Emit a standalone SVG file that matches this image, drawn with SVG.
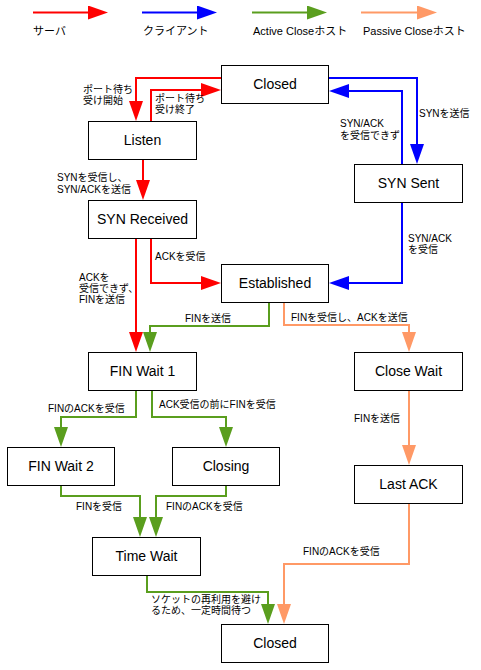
<svg xmlns="http://www.w3.org/2000/svg" width="481" height="670" viewBox="0 0 481 670">
<style>
.n rect{fill:#fff;stroke:#000;stroke-width:1}
.n text{font-family:"Liberation Sans","Noto Sans CJK JP",sans-serif;font-size:14px;text-anchor:middle;fill:#000}
.l{font-family:"Liberation Sans","Noto Sans CJK JP",sans-serif;font-size:10px;fill:#000}
.lg{font-family:"Liberation Sans","Noto Sans CJK JP",sans-serif;font-size:11px;fill:#000}
.c path{fill:none;stroke-width:2}
.r{stroke:#ff0000;marker-end:url(#mr)}
.b{stroke:#0000ff;marker-end:url(#mb)}
.g{stroke:#5a9e1e;marker-end:url(#mg)}
.o{stroke:#ff9966;marker-end:url(#mo)}
</style>
<defs>
<marker id="mr" viewBox="0 0 20 14" refX="0" refY="7" markerWidth="20" markerHeight="14" markerUnits="userSpaceOnUse" orient="auto"><path d="M0,0 L20,7 L0,14 z" fill="#ff0000"/></marker>
<marker id="mb" viewBox="0 0 20 14" refX="0" refY="7" markerWidth="20" markerHeight="14" markerUnits="userSpaceOnUse" orient="auto"><path d="M0,0 L20,7 L0,14 z" fill="#0000ff"/></marker>
<marker id="mg" viewBox="0 0 20 14" refX="0" refY="7" markerWidth="20" markerHeight="14" markerUnits="userSpaceOnUse" orient="auto"><path d="M0,0 L20,7 L0,14 z" fill="#5a9e1e"/></marker>
<marker id="mo" viewBox="0 0 20 14" refX="0" refY="7" markerWidth="20" markerHeight="14" markerUnits="userSpaceOnUse" orient="auto"><path d="M0,0 L20,7 L0,14 z" fill="#ff9966"/></marker>
</defs>
<rect width="481" height="670" fill="#fff"/>
<g id="legend" class="c">
<path class="r" d="M33,12.5 H88"/>
<path class="b" d="M142,12.5 H197"/>
<path class="g" d="M252,12.5 H307"/>
<path class="o" d="M361,12.5 H417"/>
<text class="lg" x="33" y="35">サーバ</text>
<text class="lg" x="143" y="35">クライアント</text>
<text class="lg" x="253" y="35">Active Closeホスト</text>
<text class="lg" x="363" y="35">Passive Closeホスト</text>
</g>
<g id="connectors" class="c">
<path class="r" d="M221,78 H136 V101"/>
<path class="r" d="M151,121 V90 H201"/>
<path class="r" d="M143,159 V180"/>
<path class="r" d="M151,238 V283 H201"/>
<path class="r" d="M136,238 V332"/>
<path class="b" d="M329,78 H417 V144"/>
<path class="b" d="M402,164 V91 H349"/>
<path class="b" d="M402,202 V283 H349"/>
<path class="g" d="M269,302 V326 H150 V332"/>
<path class="o" d="M284,302 V325 H409 V332"/>
<path class="o" d="M409,390 V445"/>
<path class="g" d="M136,390 V417 H61 V427"/>
<path class="g" d="M152,390 V417 H226 V427"/>
<path class="g" d="M61,485 V496 H140 V517"/>
<path class="g" d="M226,485 V496 H156 V517"/>
<path class="g" d="M147,575 V592 H268 V604"/>
<path class="o" d="M409,503 V564 H284 V604"/>
<text class="l" x="83" y="93">ポート待ち</text>
<text class="l" x="83" y="104">受け開始</text>
<text class="l" x="155" y="102">ポート待ち</text>
<text class="l" x="155" y="113">受け終了</text>
<text class="l" x="57" y="181">SYNを受信し、</text>
<text class="l" x="57" y="193">SYN/ACKを送信</text>
<text class="l" x="155" y="260">ACKを受信</text>
<text class="l" x="79" y="281">ACKを</text>
<text class="l" x="79" y="292">受信できず、</text>
<text class="l" x="79" y="303">FINを送信</text>
<text class="l" x="419" y="117">SYNを送信</text>
<text class="l" x="340" y="127">SYN/ACK</text>
<text class="l" x="340" y="139">を受信できず</text>
<text class="l" x="408" y="242">SYN/ACK</text>
<text class="l" x="408" y="253">を受信</text>
<text class="l" x="185" y="322">FINを送信</text>
<text class="l" x="291" y="321">FINを受信し、ACKを送信</text>
<text class="l" x="354" y="422">FINを送信</text>
<text class="l" x="48" y="412">FINのACKを受信</text>
<text class="l" x="159" y="408">ACK受信の前にFINを受信</text>
<text class="l" x="76" y="510">FINを受信</text>
<text class="l" x="166" y="510">FINのACKを受信</text>
<text class="l" x="151" y="603">ソケットの再利用を避け</text>
<text class="l" x="151" y="614">るため、一定時間待つ</text>
<text class="l" x="303" y="555">FINのACKを受信</text>
</g>
<g id="closed-top" class="n"><rect x="221.5" y="65.5" width="107" height="38"/><text x="275" y="89">Closed</text></g>
<g id="listen" class="n"><rect x="88.5" y="121.5" width="108" height="38"/><text x="142.5" y="145">Listen</text></g>
<g id="syn-sent" class="n"><rect x="354.5" y="164.5" width="108" height="38"/><text x="408.5" y="188">SYN Sent</text></g>
<g id="syn-received" class="n"><rect x="88.5" y="200.5" width="108" height="38"/><text x="142.5" y="224">SYN Received</text></g>
<g id="established" class="n"><rect x="221.5" y="264.5" width="107" height="38"/><text x="275" y="288">Established</text></g>
<g id="fin-wait-1" class="n"><rect x="88.5" y="352.5" width="108" height="38"/><text x="142.5" y="376">FIN Wait 1</text></g>
<g id="close-wait" class="n"><rect x="354.5" y="352.5" width="108" height="38"/><text x="408.5" y="376">Close Wait</text></g>
<g id="fin-wait-2" class="n"><rect x="7.5" y="447.5" width="107" height="38"/><text x="61" y="471">FIN Wait 2</text></g>
<g id="closing" class="n"><rect x="172.5" y="447.5" width="107" height="38"/><text x="226" y="471">Closing</text></g>
<g id="last-ack" class="n"><rect x="354.5" y="465.5" width="108" height="38"/><text x="408.5" y="489">Last ACK</text></g>
<g id="time-wait" class="n"><rect x="92.5" y="537.5" width="108" height="38"/><text x="146.5" y="561">Time Wait</text></g>
<g id="closed-bottom" class="n"><rect x="221.5" y="624.5" width="107" height="38"/><text x="275" y="648">Closed</text></g>
</svg>
